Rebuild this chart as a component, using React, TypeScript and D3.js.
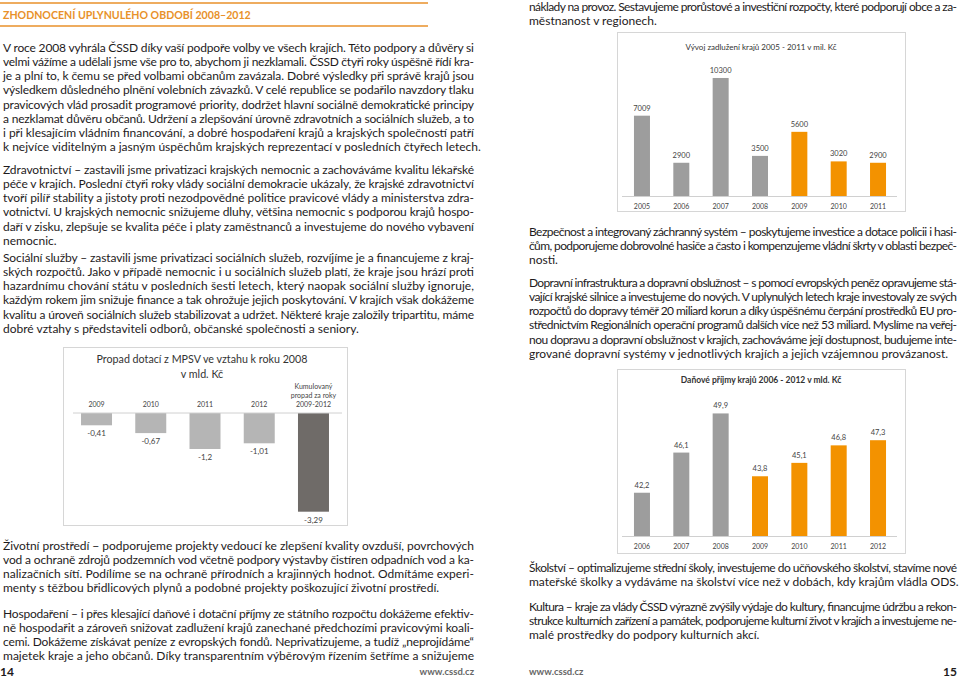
import React from "react";
import * as d3 from "d3";

// ---------- DATA ----------
const mpsvCategories = ["2009", "2010", "2011", "2012", "Kumulovaný|propad za roky|2009-2012"];
const mpsvValues = [-0.41, -0.67, -1.2, -1.01, -3.29];
const mpsvLabels = ["-0,41", "-0,67", "-1,2", "-1,01", "-3,29"];

const debtYears = ["2005", "2006", "2007", "2008", "2009", "2010", "2011"];
const debtValues = [7009, 2900, 10300, 3500, 5600, 3020, 2900];

const taxYears = ["2006", "2007", "2008", "2009", "2010", "2011", "2012"];
const taxValues = [42.2, 46.1, 49.9, 43.8, 45.1, 46.8, 47.3];
const taxLabels = ["42,2", "46,1", "49,9", "43,8", "45,1", "46,8", "47,3"];

const leftParas: string[][] = [
  [
    "V roce 2008 vyhrála ČSSD díky vaší podpoře volby ve všech krajích. Této podpory a důvěry si",
    "velmi vážíme a udělali jsme vše pro to, abychom ji nezklamali. ČSSD čtyři roky úspěšně řídí kra-",
    "je a plní to, k čemu se před volbami občanům zavázala. Dobré výsledky při správě krajů jsou",
    "výsledkem důsledného plnění volebních závazků. V celé republice se podařilo navzdory tlaku",
    "pravicových vlád prosadit programové priority, dodržet hlavní sociálně demokratické principy",
    "a nezklamat důvěru občanů. Udržení a zlepšování úrovně zdravotních a sociálních služeb, a to",
    "i při klesajícím vládním financování, a dobré hospodaření krajů a krajských společností patří",
    "k nejvíce viditelným a jasným úspěchům krajských reprezentací v posledních čtyřech letech.",
  ],
  [
    "Zdravotnictví – zastavili jsme privatizaci krajských nemocnic a zachováváme kvalitu lékařské",
    "péče v krajích. Poslední čtyři roky vlády sociální demokracie ukázaly, že krajské zdravotnictví",
    "tvoří pilíř stability a jistoty proti nezodpovědné politice pravicové vlády a ministerstva zdra-",
    "votnictví. U krajských nemocnic snižujeme dluhy, většina nemocnic s podporou krajů hospo-",
    "daří v zisku, zlepšuje se kvalita péče i platy zaměstnanců a investujeme do nového vybavení",
    "nemocnic.",
  ],
  [
    "Sociální služby – zastavili jsme privatizaci sociálních služeb, rozvíjíme je a financujeme z kraj-",
    "ských rozpočtů. Jako v případě nemocnic i u sociálních služeb platí, že kraje jsou hrází proti",
    "hazardnímu chování státu v posledních šesti letech, který naopak sociální služby ignoruje,",
    "každým rokem jim snižuje finance a tak ohrožuje jejich poskytování. V krajích však dokážeme",
    "kvalitu a úroveň sociálních služeb stabilizovat a udržet. Některé kraje založily tripartitu, máme",
    "dobré vztahy s představiteli odborů, občanské společnosti a seniory.",
  ],
  [
    "Životní prostředí − podporujeme projekty vedoucí ke zlepšení kvality ovzduší, povrchových",
    "vod a ochraně zdrojů podzemních vod včetně podpory výstavby čistíren odpadních vod a ka-",
    "nalizačních sítí. Podílíme se na ochraně přírodních a krajinných hodnot. Odmítáme experi-",
    "menty s těžbou břidlicových plynů a podobné projekty poškozující životní prostředí.",
  ],
  [
    "Hospodaření – i přes klesající daňové i dotační příjmy ze státního rozpočtu dokážeme efektiv-",
    "ně hospodařit a zároveň snižovat zadlužení krajů zanechané předchozími pravicovými koali-",
    "cemi. Dokážeme získávat peníze z evropských fondů. Neprivatizujeme, a tudíž „neprojídáme“",
    "majetek kraje a jeho občanů. Díky transparentním výběrovým řízením šetříme a snižujeme",
  ],
];
const leftParaTops = [52, 174, 262, 550, 618];
const leftParaFull = [false, false, false, false, true];

const rightParas: string[][] = [
  [
    "náklady na provoz. Sestavujeme prorůstové a investiční rozpočty, které podporují obce a za-",
    "městnanost v regionech.",
  ],
  [
    "Bezpečnost a integrovaný záchranný systém – poskytujeme investice a dotace policii i hasi-",
    "čům, podporujeme dobrovolné hasiče a často i kompenzujeme vládní škrty v oblasti bezpeč-",
    "nosti.",
  ],
  [
    "Dopravní infrastruktura a dopravní obslužnost – s pomocí evropských peněz opravujeme stá-",
    "vající krajské silnice a investujeme do nových. V uplynulých letech kraje investovaly ze svých",
    "rozpočtů do dopravy téměř 20 miliard korun a díky úspěšnému čerpání prostředků EU pro-",
    "střednictvím Regionálních operační programů dalších více než 53 miliard. Myslíme na veřej-",
    "nou dopravu a dopravní obslužnost v krajích, zachováváme její dostupnost, budujeme inte-",
    "grované dopravní systémy v jednotlivých krajích a jejich vzájemnou provázanost.",
  ],
  [
    "Školství – optimalizujeme střední školy, investujeme do učňovského školství, stavíme nové",
    "mateřské školky a vydáváme na školství více než v dobách, kdy krajům vládla ODS.",
  ],
  [
    "Kultura – kraje za vlády ČSSD výrazně zvýšily výdaje do kultury, financujme údržbu a rekon-",
    "strukce kulturních zařízení a památek, podporujeme kulturní život v krajích a investujeme ne-",
    "malé prostředky do podpory kulturních akcí.",
  ],
];
const rightParaTops = [11, 236, 287, 572, 611];

const heading = "ZHODNOCENÍ UPLYNULÉHO OBDOBÍ 2008–2012";

// ---------- STYLE ----------
const FONT = "Lato, 'Open Sans', sans-serif";
const TEXT = "#1e1b1c";
const ORANGE = "#f39200";
const GREY = "#9d9d9d";
const LH = 14.15;

function Para({ lines, x, y, width, full }: { lines: string[]; x: number; y: number; width: number; full?: boolean }) {
  return (
    <g>
      {lines.map((l, i) => {
        const justify = full || i < lines.length - 1;
        return (
          <text
            key={i}
            x={x}
            y={y + i * LH}
            fontSize={12}
            fill={TEXT}
            {...(justify ? { textLength: width, lengthAdjust: "spacing" } : {})}
          >
            {l}
          </text>
        );
      })}
    </g>
  );
}

function MpsvChart() {
  const x = d3.scaleBand<string>().domain(mpsvCategories).range([69.4, 340.6]);
  const y = d3.scaleLinear().domain([0, -3.5]).range([413, 518]);
  const bw = 31;
  return (
    <g>
      <rect x={63.5} y={347.5} width={284} height={178} fill="#fff" stroke="#d6d6d6" />
      <text x={202} y={363} textAnchor="middle" fontSize={10.7} fill="#333">Propad dotací z MPSV ve vztahu k roku 2008</text>
      <text x={202} y={378} textAnchor="middle" fontSize={10.7} fill="#333">v mld. Kč</text>
      {mpsvCategories.map((c, i) => {
        const cx = (x(c) as number) + x.bandwidth() / 2;
        const parts = c.split("|");
        return (
          <g key={c}>
            <rect
              x={cx - bw / 2}
              y={y(0)}
              width={bw}
              height={y(mpsvValues[i]) - y(0)}
              fill={i === mpsvCategories.length - 1 ? "#6f6b68" : "#b5b5b5"}
            />
            {parts.map((p, j) => (
              <text key={j} x={cx} y={407 - (parts.length - 1 - j) * 9} textAnchor="middle" fontSize={7} fill="#444">
                {p}
              </text>
            ))}
            <text x={cx} y={y(mpsvValues[i]) + 11} textAnchor="middle" fontSize={8} fill="#444">
              {mpsvLabels[i]}
            </text>
          </g>
        );
      })}
      <line x1={73} x2={342} y1={413} y2={413} stroke="#d0d0d0" />
    </g>
  );
}

function DebtChart() {
  const x = d3.scaleBand<string>().domain(debtYears).range([622.3, 897.7]);
  const y = d3.scaleLinear().domain([0, 12000]).range([196, 58.5]);
  const bw = 16;
  return (
    <g>
      <rect x={617.5} y={32.5} width={288} height={179} fill="#fff" stroke="#d6d6d6" />
      <text x={761} y={50} textAnchor="middle" fontSize={8} fill="#333">Vývoj zadlužení krajů 2005 - 2011 v mil. Kč</text>
      {debtYears.map((c, i) => {
        const cx = (x(c) as number) + x.bandwidth() / 2;
        return (
          <g key={c}>
            <rect x={cx - bw / 2} y={y(debtValues[i])} width={bw} height={y(0) - y(debtValues[i])} fill={i >= 4 ? ORANGE : GREY} />
            <text x={cx} y={y(debtValues[i]) - 5} textAnchor="middle" fontSize={7.5} fill="#444">{String(debtValues[i])}</text>
            <text x={cx} y={209} textAnchor="middle" fontSize={7} fill="#444">{c}</text>
          </g>
        );
      })}
      <line x1={622} x2={897} y1={196.5} y2={196.5} stroke="#d0d0d0" />
    </g>
  );
}

function TaxChart() {
  const x = d3.scaleBand<string>().domain(taxYears).range([622.3, 897.7]);
  const y = d3.scaleLinear().domain([38, 52]).range([536, 391.8]);
  const bw = 16;
  return (
    <g>
      <rect x={617.5} y={369.5} width={288} height={184} fill="#fff" stroke="#d6d6d6" />
      <text x={761} y={383} textAnchor="middle" fontSize={8.5} fontWeight="bold" fill="#333">Daňové příjmy krajů 2006 - 2012 v mld. Kč</text>
      {taxYears.map((c, i) => {
        const cx = (x(c) as number) + x.bandwidth() / 2;
        return (
          <g key={c}>
            <rect x={cx - bw / 2} y={y(taxValues[i])} width={bw} height={y(38) - y(taxValues[i])} fill={i >= 3 ? ORANGE : GREY} />
            <text x={cx} y={y(taxValues[i]) - 5} textAnchor="middle" fontSize={7.5} fill="#444">{taxLabels[i]}</text>
            <text x={cx} y={549} textAnchor="middle" fontSize={7} fill="#444">{c}</text>
          </g>
        );
      })}
      <line x1={622} x2={897} y1={536.5} y2={536.5} stroke="#d0d0d0" />
    </g>
  );
}

export default function App() {
  return (
    <svg
      width={959}
      height={678}
      style={{ position: "absolute", left: 0, top: 0, background: "#fff" }}
      fontFamily={FONT}
    >
      <rect width={959} height={678} fill="#fff" />
      {/* header */}
      <line x1={0} x2={428} y1={3} y2={3} stroke="#e8912a" strokeWidth={1.5} />
      <text x={3} y={18.5} fontSize={10.6} fontWeight="bold" fill="#e8912a">{heading}</text>
      <line x1={0} x2={428} y1={26} y2={26} stroke="#e8912a" strokeWidth={1.5} />

      {leftParas.map((p, i) => (
        <Para key={i} lines={p} x={3} y={leftParaTops[i]} width={471} full={leftParaFull[i]} />
      ))}
      {rightParas.map((p, i) => (
        <Para key={i} lines={p} x={529} y={rightParaTops[i]} width={428} />
      ))}

      <MpsvChart />
      <DebtChart />
      <TaxChart />

      {/* footer */}
      <text x={0} y={676} fontSize={12} fontWeight="bold" fill={TEXT}>14</text>
      <text x={474} y={675} fontSize={9.5} fontWeight="bold" fill="#666" textAnchor="end">www.cssd.cz</text>
      <text x={529} y={675} fontSize={9.5} fontWeight="bold" fill="#666">www.cssd.cz</text>
      <text x={957} y={676} fontSize={12} fontWeight="bold" fill={TEXT} textAnchor="end">15</text>
    </svg>
  );
}
